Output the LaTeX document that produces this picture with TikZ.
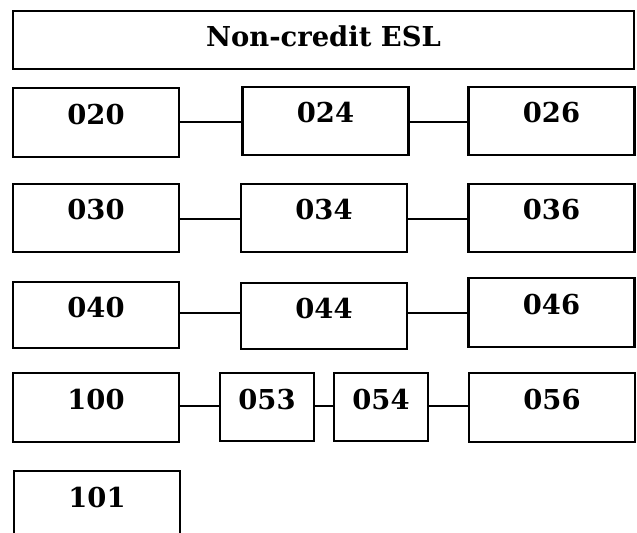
\documentclass[tikz,border=0pt]{standalone}
\usepackage{fontspec}
\setmainfont{DejaVu Serif}
\begin{document}
\begin{tikzpicture}[x=1bp,y=-1bp,
  box/.style={draw, line width=2.6bp, inner sep=0pt, minimum width=166bp, minimum height=68bp,
    font=\fontsize{27.4bp}{30bp}\selectfont\bfseries, text height=20bp, text depth=16bp},
  smallbox/.style={box, minimum width=94bp},
  link/.style={line width=1.5bp}]
\useasboundingbox (0,0) rectangle (637,533);
\clip (0,0) rectangle (637,533);
\node[box, minimum width=621bp, minimum height=58bp, text height=20bp, text depth=6bp] (title) at (323.5,40) {Non-credit ESL};
% row 1
\node[box, minimum height=69bp] (b020) at (96,122.5) {020};
\node[box] (b024) at (325.5,121) {024};
\node[box] (b026) at (551.5,121) {026};
% row 2
\node[box] (b030) at (96,218) {030};
\node[box] (b034) at (324,218) {034};
\node[box] (b036) at (551.5,218) {036};
% row 3
\node[box, minimum height=66bp] (b040) at (96,315) {040};
\node[box, minimum height=66bp] (b044) at (324,316) {044};
\node[box, minimum height=69bp] (b046) at (551.5,312.5) {046};
% row 4
\node[box, minimum height=69bp] (b100) at (96,407.5) {100};
\node[smallbox] (b053) at (267,407) {053};
\node[smallbox] (b054) at (381,407) {054};
\node[box, minimum height=69bp] (b056) at (552,407.5) {056};
% row 5
\node[box, minimum height=69bp] (b101) at (97,505.5) {101};
% connectors
\coordinate (c1) at (0,122);
\coordinate (c2) at (0,219);
\coordinate (c3) at (0,313);
\coordinate (c4) at (0,406);
\draw[link] (b020.east |- c1) -- (b024.west |- c1);
\draw[link] (b024.east |- c1) -- (b026.west |- c1);
\draw[link] (b030.east |- c2) -- (b034.west |- c2);
\draw[link] (b034.east |- c2) -- (b036.west |- c2);
\draw[link] (b040.east |- c3) -- (b044.west |- c3);
\draw[link] (b044.east |- c3) -- (b046.west |- c3);
\draw[link] (b100.east |- c4) -- (b053.west |- c4);
\draw[link] (b053.east |- c4) -- (b054.west |- c4);
\draw[link] (b054.east |- c4) -- (b056.west |- c4);
\end{tikzpicture}
\end{document}
